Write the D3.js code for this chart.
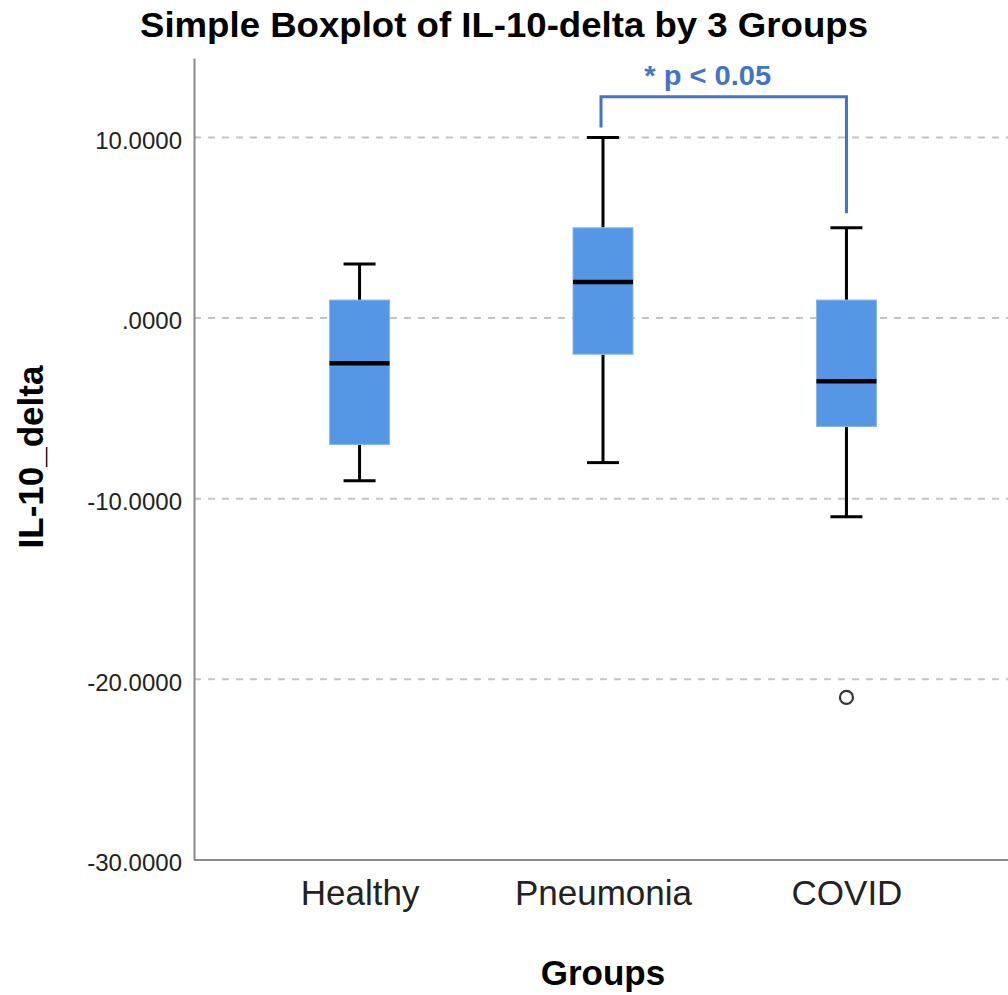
<!DOCTYPE html>
<html>
<head>
<meta charset="utf-8">
<script src="https://cdn.jsdelivr.net/npm/d3@7"></script>
<style>
  body { margin: 0; background: #fff; }
  text { font-family: "Liberation Sans", Arial, sans-serif; }
</style>
</head>
<body>
<div id="chart"></div>
<script>
// data
var groups    = ['Healthy', 'Pneumonia', 'COVID'];
var whiskLow  = [-9, -8, -11];
var q1        = [-7, -2, -6];
var medians   = [-2.5, 2, -3.5];
var q3        = [1, 5, 1];
var whiskHigh = [3, 10, 5];
var outliers  = [{group: 'COVID', value: -21}];
var yTicks    = [10, 0, -10, -20, -30];

var width = 1008, height = 995;
var margin = {top: 58, right: 0, bottom: 135, left: 194};

var svg = d3.select('#chart').append('svg')
  .attr('width', width)
  .attr('height', height);

var x = d3.scalePoint()
  .domain(groups)
  .range([margin.left, 1012])
  .padding(0.68);

var y = d3.scaleLinear()
  .domain([-30, 14.4])
  .range([height - margin.bottom, margin.top]);

// SPSS style: 4 decimals, no leading zero, plain hyphen for minus
var fmt = function(d) {
  var s = d.toFixed(4);
  return s.replace(/^(-?)0\./, '$1.');
};

// gridlines
svg.append('g')
  .selectAll('line')
  .data(yTicks.filter(function(d) { return d > -30; }))
  .enter().append('line')
  .attr('x1', margin.left)
  .attr('x2', width)
  .attr('y1', function(d) { return y(d); })
  .attr('y2', function(d) { return y(d); })
  .attr('stroke', '#c4c4c4')
  .attr('stroke-width', 2)
  .attr('stroke-dasharray', '7,7');

// y axis
var yAxis = svg.append('g')
  .attr('transform', 'translate(' + margin.left + ',0)')
  .call(d3.axisLeft(y).tickValues(yTicks).tickSize(0).tickPadding(12).tickFormat(fmt));
yAxis.select('.domain').attr('stroke', '#8a8a8a').attr('stroke-width', 2);
yAxis.selectAll('text')
  .attr('font-size', 24)
  .attr('fill', '#222')
  .attr('dy', '0.45em');

// x axis
var xAxis = svg.append('g')
  .attr('transform', 'translate(0,' + y(-30) + ')')
  .call(d3.axisBottom(x).tickSize(0).tickPadding(20));
xAxis.select('.domain').attr('d', 'M' + margin.left + ',0H' + width)
  .attr('stroke', '#8a8a8a').attr('stroke-width', 2);
xAxis.selectAll('text')
  .attr('font-size', 35)
  .attr('fill', '#222')
  .attr('dy', '0.72em');

var boxW = 60, capW = 32;

// whiskers, boxes, medians
var g = svg.append('g');
groups.forEach(function(name, i) {
  var cx = x(name);
  g.append('line')
    .attr('x1', cx).attr('x2', cx)
    .attr('y1', y(whiskHigh[i])).attr('y2', y(q3[i]))
    .attr('stroke', '#000').attr('stroke-width', 3);
  g.append('line')
    .attr('x1', cx).attr('x2', cx)
    .attr('y1', y(q1[i])).attr('y2', y(whiskLow[i]))
    .attr('stroke', '#000').attr('stroke-width', 3);
  [whiskHigh[i], whiskLow[i]].forEach(function(v) {
    g.append('line')
      .attr('x1', cx - capW / 2).attr('x2', cx + capW / 2)
      .attr('y1', y(v)).attr('y2', y(v))
      .attr('stroke', '#000').attr('stroke-width', 3);
  });
  g.append('rect')
    .attr('x', cx - boxW / 2)
    .attr('y', y(q3[i]))
    .attr('width', boxW)
    .attr('height', y(q1[i]) - y(q3[i]))
    .attr('fill', '#5596e5')
    .attr('stroke', '#8bb6ee')
    .attr('stroke-width', 1);
  g.append('line')
    .attr('x1', cx - boxW / 2).attr('x2', cx + boxW / 2)
    .attr('y1', y(medians[i])).attr('y2', y(medians[i]))
    .attr('stroke', '#000').attr('stroke-width', 4.5);
});

// outliers
svg.selectAll('.outlier')
  .data(outliers)
  .enter().append('circle')
  .attr('class', 'outlier')
  .attr('cx', function(d) { return x(d.group); })
  .attr('cy', function(d) { return y(d.value); })
  .attr('r', 6.5)
  .attr('fill', 'none')
  .attr('stroke', '#333')
  .attr('stroke-width', 2.2);

// significance bracket
var blue = '#4472c4';
var bx1 = x('Pneumonia') - 2, bx2 = x('COVID');
svg.append('path')
  .attr('d', 'M' + bx1 + ',' + y(10.55) + 'V' + y(12.25) + 'H' + bx2 + 'V' + y(5.8))
  .attr('fill', 'none')
  .attr('stroke', blue)
  .attr('stroke-width', 3);
svg.append('text')
  .attr('x', (bx1 + bx2) / 2 - 16)
  .attr('y', 85)
  .attr('text-anchor', 'middle')
  .attr('font-size', 28)
  .attr('font-weight', 'bold')
  .attr('fill', blue)
  .attr('textLength', 127)
  .attr('lengthAdjust', 'spacingAndGlyphs')
  .text('* p < 0.05');

// titles
svg.append('text')
  .attr('x', 504)
  .attr('y', 37)
  .attr('text-anchor', 'middle')
  .attr('font-size', 35)
  .attr('font-weight', 'bold')
  .attr('textLength', 728)
  .attr('lengthAdjust', 'spacingAndGlyphs')
  .text('Simple Boxplot of IL-10-delta by 3 Groups');

svg.append('text')
  .attr('x', x('Pneumonia'))
  .attr('y', 985)
  .attr('text-anchor', 'middle')
  .attr('font-size', 35)
  .attr('font-weight', 'bold')
  .text('Groups');

svg.append('text')
  .attr('transform', 'translate(43,457) rotate(-90)')
  .attr('text-anchor', 'middle')
  .attr('font-size', 35)
  .attr('font-weight', 'bold')
  .text('IL-10_delta');
</script>
</body>
</html>
